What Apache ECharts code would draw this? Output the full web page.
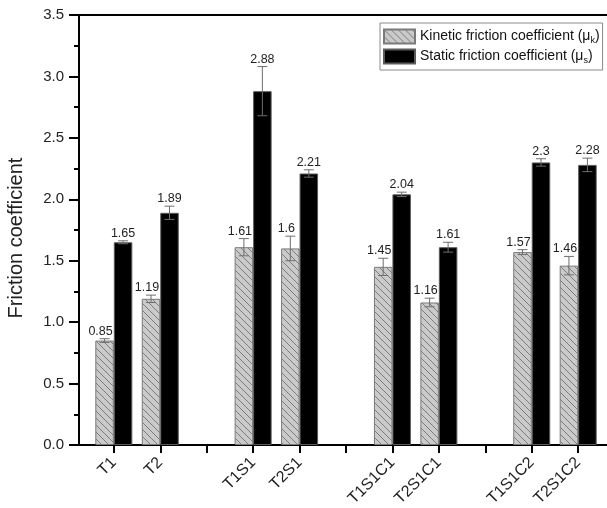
<!DOCTYPE html>
<html>
<head>
<meta charset="utf-8">
<script src="https://cdn.jsdelivr.net/npm/echarts@6/dist/echarts.min.js"></script>
<style>
  html, body { margin: 0; padding: 0; background: #fff; }
  #chart { width: 607px; height: 508px; }
</style>
</head>
<body>
<div id="chart"></div>
<script>
// Sample groups (empty strings are spacer slots between groups)
const categories = ['T1', 'T2', '', 'T1S1', 'T2S1', '', 'T1S1C1', 'T2S1C1', '', 'T1S1C2', 'T2S1C2'];

// Kinetic friction coefficient (mean, standard deviation)
const kineticValues = [0.85, 1.19, null, 1.61, 1.6, null, 1.45, 1.16, null, 1.57, 1.46];
const kineticErrors = [0.015, 0.03, null, 0.07, 0.1, null, 0.07, 0.035, null, 0.02, 0.075];

// Static friction coefficient (mean, standard deviation)
const staticValues = [1.65, 1.89, null, 2.88, 2.21, null, 2.04, 1.61, null, 2.3, 2.28];
const staticErrors = [0.012, 0.054, null, 0.2, 0.03, null, 0.018, 0.04, null, 0.03, 0.055];

// Value axis ticks
const yMin = 0, yMax = 3.5, yStep = 0.5;

const KIN = 'Kinetic friction coefficient';
const STA = 'Static friction coefficient';
const FONT = '"Liberation Sans", Arial, Helvetica, sans-serif';
const BAR_W = 18.5;
const CAP = 5;
const ERR_COLOR = '#6e6e6e';

// Light grey fill with "\" hatching
function hatchPattern() {
  const s = 7;
  const c = document.createElement('canvas');
  c.width = s; c.height = s;
  const g = c.getContext('2d');
  g.fillStyle = '#cacaca';
  g.fillRect(0, 0, s, s);
  g.strokeStyle = '#7c7c7c';
  g.lineWidth = 1;
  for (const k of [-s, 0, s]) {
    g.beginPath();
    g.moveTo(k, 0);
    g.lineTo(k + s, s);
    g.stroke();
  }
  return { image: c, repeat: 'repeat' };
}

function toPairs(values) {
  const out = [];
  values.forEach((v, i) => { if (v != null) out.push([i, v]); });
  return out;
}

// Error bar with caps, and the mean printed just above the upper cap
function errorSeries(name, values, errors, side, labelShift) {
  const data = [];
  values.forEach((v, i) => { if (v != null) data.push([i, v, errors[i]]); });
  return {
    type: 'custom',
    name: name,
    data: data,
    z: 5,
    silent: true,
    renderItem(params, api) {
      const x = api.value(0), v = api.value(1), e = api.value(2);
      const top = api.coord([x, v + e]);
      const bot = api.coord([x, v - e]);
      const cx = top[0] + side * BAR_W / 2;
      const ls = { stroke: ERR_COLOR, lineWidth: 1 };
      return {
        type: 'group',
        children: [
          { type: 'line', shape: { x1: cx, y1: top[1], x2: cx, y2: bot[1] }, style: ls },
          { type: 'line', shape: { x1: cx - CAP, y1: top[1], x2: cx + CAP, y2: top[1] }, style: ls },
          { type: 'line', shape: { x1: cx - CAP, y1: bot[1], x2: cx + CAP, y2: bot[1] }, style: ls },
          {
            type: 'text',
            x: cx + labelShift, y: top[1] - 1,
            style: {
              text: String(v), align: 'center', verticalAlign: 'bottom',
              fontSize: 12.5, fontFamily: FONT, fill: '#222'
            }
          }
        ]
      };
    }
  };
}

const tickPositions = categories.map((_, i) => i);

const chart = echarts.init(document.getElementById('chart'), null, { renderer: 'canvas' });
chart.setOption({
  animation: false,
  backgroundColor: '#fff',
  grid: {
    left: 79, top: 15, bottom: 63, right: -6,
    outerBoundsMode: 'none', containLabel: false,
    show: true, borderColor: '#000', borderWidth: 2, backgroundColor: 'transparent'
  },
  legend: {
    orient: 'vertical',
    left: 380, top: 23,
    itemWidth: 31, itemHeight: 14, itemGap: 3,
    padding: [5, 3, 5, 3],
    borderColor: '#8a8a8a', borderWidth: 1,
    icon: 'rect',
    data: [KIN, STA],
    formatter: n => n === KIN ? KIN + ' (μ{s|k})' : STA + ' (μ{s|s})',
    textStyle: {
      fontSize: 14, fontFamily: FONT, color: '#111', lineHeight: 17,
      rich: { s: { fontSize: 9, fontFamily: FONT, color: '#111', verticalAlign: 'bottom', lineHeight: 12 } }
    }
  },
  xAxis: {
    type: 'value',
    min: -0.75, max: 10.75,
    splitLine: { show: false },
    axisLine: { onZero: false, lineStyle: { color: '#000', width: 2 } },
    axisTick: { customValues: tickPositions, length: 8, lineStyle: { color: '#000', width: 2 } },
    axisLabel: {
      customValues: tickPositions,
      formatter: v => categories[Math.round(v)] || '',
      rotate: 45, margin: 15,
      fontSize: 16, fontFamily: FONT, color: '#222'
    }
  },
  yAxis: {
    type: 'value',
    min: yMin, max: yMax, interval: yStep,
    name: 'Friction coefficient',
    nameLocation: 'middle', nameGap: 53,
    nameTextStyle: { fontSize: 20, fontFamily: FONT, color: '#222', padding: [0, 16, 0, 0] },
    splitLine: { show: false },
    axisLine: { show: true, onZero: false, lineStyle: { color: '#000', width: 2 } },
    axisTick: { show: true, length: 10, lineStyle: { color: '#000', width: 2 } },
    minorTick: { show: true, splitNumber: 2, length: 5, lineStyle: { color: '#000', width: 2 } },
    axisLabel: {
      margin: 15, fontSize: 15, fontFamily: FONT, color: '#222',
      formatter: v => v.toFixed(1)
    }
  },
  series: [
    {
      name: KIN, type: 'bar', data: toPairs(kineticValues),
      barWidth: BAR_W, barGap: '0%',
      itemStyle: { color: hatchPattern(), borderColor: '#7a7a7a', borderWidth: 1 }
    },
    {
      name: STA, type: 'bar', data: toPairs(staticValues),
      barWidth: BAR_W, barGap: '0%',
      itemStyle: { color: '#000', borderColor: '#5a5a5a', borderWidth: 1 }
    },
    errorSeries('kineticError', kineticValues, kineticErrors, -1, -4),
    errorSeries('staticError', staticValues, staticErrors, 1, 0)
  ]
});
</script>
</body>
</html>
